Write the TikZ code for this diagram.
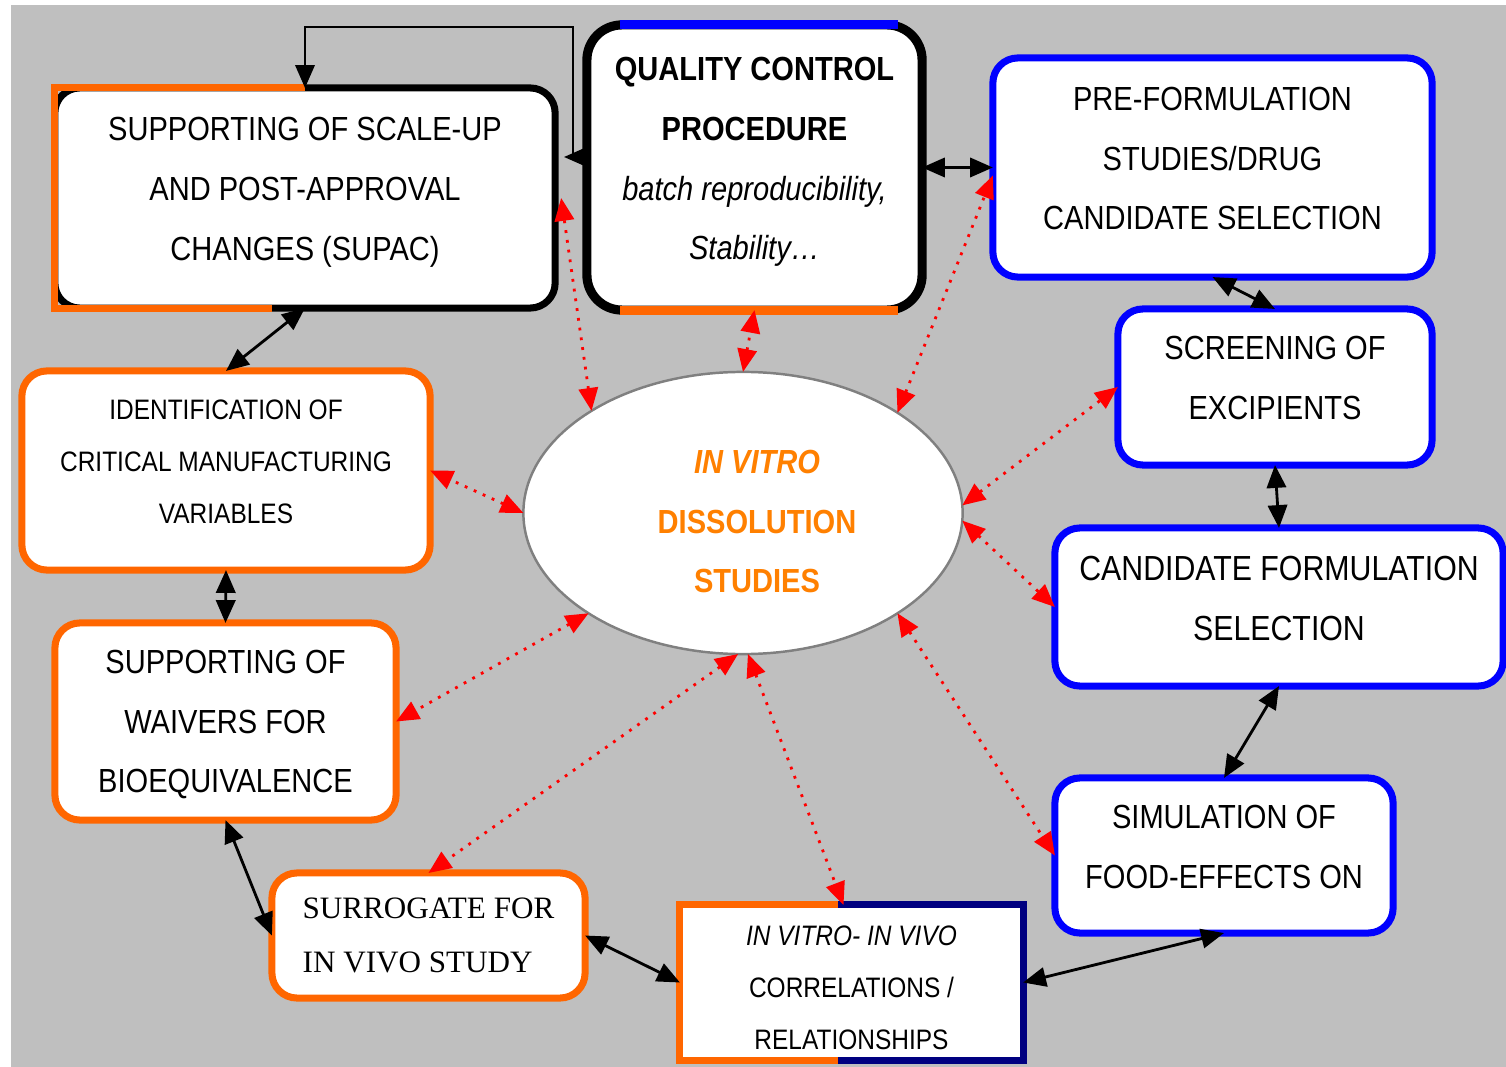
\documentclass[tikz,border=0pt]{standalone}
\usepackage{fontspec}
\setmainfont{Liberation Sans}[FakeStretch=0.87]
\newfontfamily\timesfont{Liberation Serif}
\usetikzlibrary{shapes.geometric,arrows.meta}
\definecolor{bggray}{RGB}{191,191,191}
\definecolor{boxorange}{RGB}{255,102,0}
\definecolor{titleorange}{RGB}{255,128,0}
\definecolor{navyblue}{RGB}{0,0,128}
\newcommand{\bigtext}{\fontsize{9.5}{17}\selectfont}
\newcommand{\smalltext}{\fontsize{8}{14.7}\selectfont}

\begin{document}
\begin{tikzpicture}[x=0.01cm, y=-0.01cm, >={Triangle[length=6.5pt,width=5.5pt]},
  box/.style={rectangle, rounded corners=0.25cm, fill=white, line width=2pt, align=center, inner sep=0pt, outer sep=0pt, text depth=0.18cm, font=\bigtext},
  bluebox/.style={box, draw=blue},
  orangebox/.style={box, draw=boxorange},
  link/.style={<->, line width=0.8pt},
  redlink/.style={<->, red, dotted, line width=0.8pt}]
 \fill[bggray](11,5) rectangle (1506,1067);
 \useasboundingbox (0,0) rectangle (1506,1067);

 % boxes
 \node[box, draw=black, minimum width=5cm, minimum height=2.2cm] (supac) at (305,198) {SUPPORTING OF SCALE-UP\\AND POST-APPROVAL\\CHANGES (SUPAC)};
 \node[box, draw=black, line width=2.6pt, rounded corners=0.35cm, minimum width=3.35cm, minimum height=2.85cm] (qc) at (754.5,167.5) {\textbf{QUALITY CONTROL}\\\textbf{PROCEDURE}\\\textit{batch reproducibility,}\\\textit{Stability\dots}};
 \node[bluebox, minimum width=4.39cm, minimum height=2.19cm] (pre) at (1212.5,167.5) {PRE-FORMULATION\\STUDIES/DRUG\\CANDIDATE SELECTION};
 \node[bluebox, minimum width=3.14cm, minimum height=1.56cm] (scr) at (1275,387) {SCREENING OF\\EXCIPIENTS};
 \node[bluebox, font=\fontsize{9.9}{17}\selectfont, minimum width=4.48cm, minimum height=1.58cm] (cand) at (1279,607) {CANDIDATE FORMULATION\\SELECTION};
 \node[bluebox, minimum width=3.38cm, minimum height=1.55cm] (sim) at (1224,855.5) {SIMULATION OF\\FOOD-EFFECTS ON};
 \node[box, sharp corners, font=\smalltext, text height=38pt, text depth=0pt, minimum width=3.43cm, minimum height=1.55cm] (ivivc) at (851.5,982.5) {\textit{IN VITRO- IN VIVO}\\CORRELATIONS /\\RELATIONSHIPS};
 \node[orangebox, align=left, text depth=0cm, font=\timesfont\fontsize{8.85}{15.4}\selectfont, minimum width=3.13cm, minimum height=1.25cm] (surr) at (428.5,935.5) {SURROGATE FOR\\IN VIVO STUDY};
 \node[orangebox, text depth=-0.08cm, minimum width=3.41cm, minimum height=1.97cm] (waiv) at (225.5,721.5) {SUPPORTING OF\\WAIVERS FOR\\BIOEQUIVALENCE};
 \node[orangebox, font=\smalltext, minimum width=4.08cm, minimum height=1.99cm] (ident) at (226,470.5) {IDENTIFICATION OF\\CRITICAL MANUFACTURING\\VARIABLES};
 \node[ellipse, draw=gray, fill=white, line width=0.7pt, inner sep=0pt, outer sep=0pt, text height=45.4pt, text depth=0pt, minimum width=4.39cm, minimum height=2.82cm, align=center, text=titleorange, font=\bigtext\bfseries] (ell) at (743,513) {\hspace*{0.28cm}\textit{IN VITRO}\\\hspace*{0.28cm}DISSOLUTION\\\hspace*{0.28cm}STUDIES};

 % two-coloured borders
 \draw[boxorange, line width=2pt]([xshift=2.17cm]supac.south west)--(supac.south west)--(supac.north west)--(supac.north);
 \draw[blue, line width=2.6pt]([xshift=0.33cm]qc.north west)--([xshift=-0.24cm]qc.north east);
 \draw[boxorange, line width=2.6pt]([xshift=0.33cm]qc.south west)--([xshift=-0.24cm]qc.south east);
 \draw[boxorange, line width=2pt]([xshift=1.58cm]ivivc.north west)--(ivivc.north west)--(ivivc.south west)--([xshift=1.58cm]ivivc.south west);
 \draw[navyblue, line width=2pt]([xshift=1.58cm]ivivc.north west)--(ivivc.north east)--(ivivc.south east)--([xshift=1.58cm]ivivc.south west);

 % black links
 \coordinate (qcin) at (564,157);
 \coordinate (bend) at (305,27);
 \draw[<->, line width=0.7pt](qcin)--++(9,0)|-(bend)--(supac.north);
 \draw[link](qc.east)--(pre.west |- qc.east);
 \draw[link](pre.south)--(scr.north);
 \draw[link](scr.south)--(cand.north);
 \draw[link](cand.south)--(sim.north);
 \draw[link](sim.south)--(ivivc.east);
 \draw[link](surr.east)--(ivivc.west);
 \draw[link](waiv.south)--(surr.west);
 \draw[link](ident.south)--(waiv.north);
 \draw[link](ident.north)--(supac.south);

 % red links
 \draw[redlink](ell.146)--([xshift=0.06cm]supac.east);
 \draw[redlink](ell.north)--(qc.south);
 \draw[redlink](ell.33)--([yshift=-0.08cm]pre.west);
 \draw[redlink](ell.2)--(scr.west);
 \draw[redlink](ell.-2)--(cand.west);
 \draw[redlink](ell.-33)--(sim.west);
 \draw[redlink](ell.-88)--([xshift=-0.08cm]ivivc.north);
 \draw[redlink](ell.-92)--(surr.north);
 \draw[redlink](ell.213)--(waiv.east);
 \draw[redlink](ell.180)--(ident.east);
\end{tikzpicture}
\end{document}
